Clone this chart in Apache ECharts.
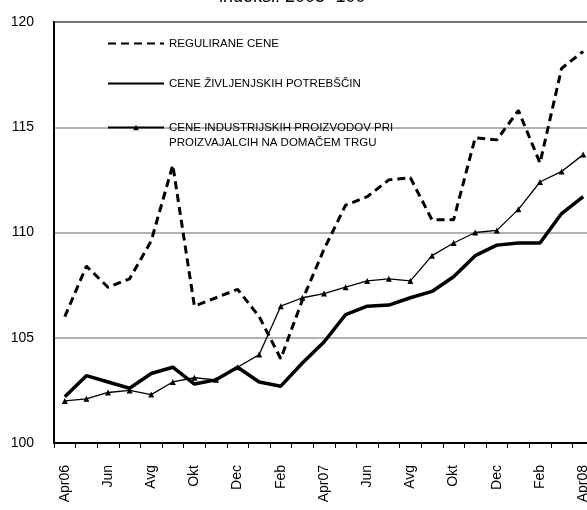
<!DOCTYPE html>
<html>
<head>
<meta charset="utf-8">
<script src="https://cdn.jsdelivr.net/npm/echarts@6/dist/echarts.min.js"></script>
<style>
  html, body { margin: 0; padding: 0; background: #fff; overflow: hidden; }
  /* desni rob grafa je odrezan, zato je platno malo sirse od okna */
  #chart { width: 594px; height: 510px; }
</style>
</head>
<body>
<div id="chart"></div>
<script>
// meseci od apr 2006 do apr 2008
var months = ['Apr06','Maj','Jun','Jul','Avg','Sep','Okt','Nov','Dec','Jan','Feb','Mar',
              'Apr07','Maj','Jun','Jul','Avg','Sep','Okt','Nov','Dec','Jan','Feb','Mar','Apr08'];

var regulirane = [106.0, 108.4, 107.4, 107.8, 109.6, 113.2, 106.5, 106.9, 107.3, 106.0, 104.0, 106.8,
                  109.2, 111.3, 111.7, 112.5, 112.6, 110.6, 110.6, 114.5, 114.4, 115.8, 113.3, 117.8, 118.6];

var zivljenjske = [102.2, 103.2, 102.9, 102.6, 103.3, 103.6, 102.8, 103.0, 103.6, 102.9, 102.7, 103.8,
                   104.8, 106.1, 106.5, 106.55, 106.9, 107.2, 107.9, 108.9, 109.4, 109.5, 109.5, 110.9, 111.7];

var industrijske = [102.0, 102.1, 102.4, 102.5, 102.3, 102.9, 103.1, 103.0, 103.6, 104.2, 106.5, 106.9,
                    107.1, 107.4, 107.7, 107.8, 107.7, 108.9, 109.5, 110.0, 110.1, 111.1, 112.4, 112.9, 113.7];

var names = ['REGULIRANE CENE', 'CENE ŽIVLJENJSKIH POTREBŠČIN',
             'CENE INDUSTRIJSKIH PROIZVODOV PRI\nPROIZVAJALCIH NA DOMAČEM TRGU'];

var chart = echarts.init(document.getElementById('chart'));

var legendText = {
  fontFamily: '"Liberation Sans Narrow", "Liberation Sans", Arial, sans-serif',
  fontSize: 11.5,
  color: '#000',
  lineHeight: 15
};

var option = {
  animation: false,
  title: {
    text: 'indeksi: 2005=100',
    left: 219,
    top: -12,
    padding: 0,
    textStyle: { fontFamily: '"Liberation Sans", Arial', fontSize: 18, fontWeight: 'normal', color: '#000' }
  },
  legend: [{
    orient: 'vertical',
    left: 107,
    top: 36,
    itemWidth: 56,
    itemHeight: 14,
    itemGap: 25,
    padding: 0,
    lineStyle: { width: 2 },
    data: [
      { name: names[0], itemStyle: { opacity: 0 } },
      { name: names[1], itemStyle: { opacity: 0 } }
    ],
    textStyle: legendText
  }, {
    // prazna prva vrstica, da je znak poravnan s prvo vrstico besedila
    orient: 'vertical',
    left: 107,
    top: 105,
    itemWidth: 56,
    itemHeight: 7,
    padding: 0,
    lineStyle: { width: 2 },
    data: [names[2]],
    formatter: function (name) { return ' \n' + name; },
    textStyle: legendText
  }],
  grid: {
    left: 54,
    right: 0,
    top: 22,
    bottom: 67,
    show: true,
    borderColor: '#000',
    borderWidth: 2
  },
  xAxis: {
    type: 'category',
    data: months,
    boundaryGap: true,
    axisLine: { lineStyle: { color: '#000', width: 2 } },
    axisTick: { show: true, length: 5, interval: 0, lineStyle: { color: '#000', width: 1 } },
    axisLabel: {
      interval: 1,
      rotate: 90,
      margin: 22,
      fontFamily: '"Liberation Sans", Arial',
      fontSize: 14,
      color: '#000'
    }
  },
  yAxis: {
    type: 'value',
    min: 100,
    max: 120,
    interval: 5,
    axisLine: { show: true, lineStyle: { color: '#000', width: 2 } },
    axisTick: { show: false },
    axisLabel: { margin: 20, fontFamily: '"Liberation Sans", Arial', fontSize: 14, color: '#000' },
    splitLine: { lineStyle: { color: '#999', width: 1.5 } }
  },
  series: [{
    name: names[0],
    type: 'line',
    data: regulirane,
    showSymbol: false,
    symbol: 'none',
    lineStyle: { color: '#000', width: 3, type: [8, 5] },
    itemStyle: { color: '#000' }
  }, {
    name: names[1],
    type: 'line',
    data: zivljenjske,
    showSymbol: false,
    symbol: 'none',
    lineStyle: { color: '#000', width: 3.5 },
    itemStyle: { color: '#000' }
  }, {
    name: names[2],
    type: 'line',
    data: industrijske,
    symbol: 'triangle',
    symbolSize: 6,
    lineStyle: { color: '#000', width: 1.3 },
    itemStyle: { color: '#000' }
  }]
};

chart.setOption(option);
</script>
</body>
</html>
